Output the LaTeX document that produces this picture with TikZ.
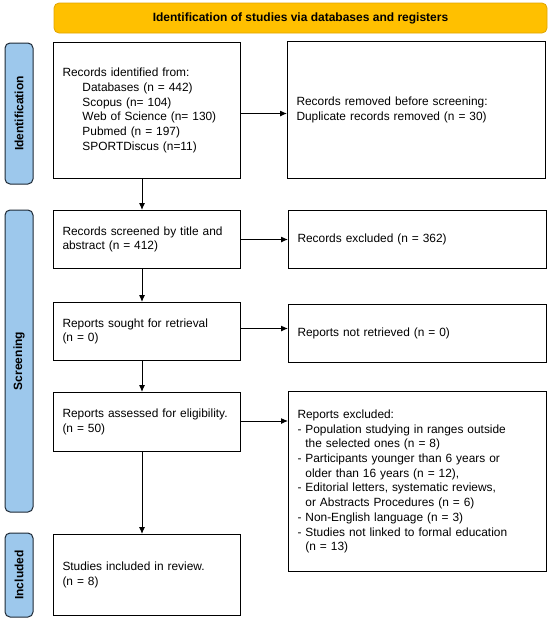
\documentclass[tikz,border=0pt]{standalone}
\usepackage{fontspec}
\setmainfont{Liberation Sans}
\usetikzlibrary{arrows.meta}

\definecolor{headgold}{HTML}{FFC000}
\definecolor{headedge}{HTML}{E0A400}
\definecolor{phaseblue}{HTML}{9DC8EC}
\definecolor{phaseedge}{HTML}{1F2A36}

\newcommand{\sub}{\hspace*{20pt}}
\newcommand{\cont}{\phantom{-}\ }

\tikzset{
  box/.style={draw, line width=1pt, rectangle, align=left, anchor=north west,
    inner xsep=9pt, inner ysep=2pt, font=\fontsize{11.9}{14.7}\selectfont},
  leftbox/.style={box, text width=169pt, minimum height=#1},
  rightbox/.style={box, text width=240pt, minimum height=#1},
  phase/.style={draw=phaseedge, fill=phaseblue, line width=1pt, rounded corners=5pt,
    rotate=90, minimum height=28pt, inner sep=0pt, font=\fontsize{12}{14}\selectfont\bfseries},
  header/.style={draw=headedge, fill=headgold, line width=0.8pt, rounded corners=5pt,
    minimum width=493pt, minimum height=30pt, font=\fontsize{12}{14}\selectfont\bfseries},
  flow/.style={line width=1pt, -{Latex[length=7pt,width=6pt]}}
}

\begin{document}
\begin{tikzpicture}[x=1pt,y=-1pt]
            \useasboundingbox (0,0) rectangle (550,622);

            % title and phases
            \node[header] (head) at (300.5,18) {Identification of studies via databases and registers};
            \node[phase, minimum width=141pt] (ident) at (19,113.5) {Identification};
            \node[phase, minimum width=302pt] (screen) at (19,361) {Screening};
            \node[phase, minimum width=84pt] (incl) at (19,575) {Included};

            % left column
            \node[leftbox=136pt] (found) at (53,42) {Records identified from:\\
              \sub Databases (n = 442)\\
              \sub Scopus (n= 104)\\
              \sub Web of Science (n= 130)\\
              \sub Pubmed (n = 197)\\
              \sub SPORTDiscus (n=11)};
            \node[leftbox=58pt] (screened) at (53,210) {Records screened by title and\\abstract (n = 412)};
            \node[leftbox=58pt] (sought) at (53,302) {Reports sought for retrieval\\(n = 0)};
            \node[leftbox=59pt] (assessed) at (53,392) {Reports assessed for eligibility.\\(n = 50)};
            \node[leftbox=81pt] (included) at (53,534) {Studies included in review.\\(n = 8)};

            % right column
            \node[rightbox=137pt] (removed) at (287,41) {Records removed before screening:\\Duplicate records removed (n = 30)};
            \node[rightbox=58pt] (excluded) at (288,210) {Records excluded (n = 362)};
            \node[rightbox=58pt] (notret) at (288,304) {Reports not retrieved (n = 0)};
            \node[rightbox=180pt] (repexcl) at (288,391) {Reports excluded:\\
              - Population studying in ranges outside\\
              \cont the selected ones (n = 8)\\
              - Participants younger than 6 years or\\
              \cont older than 16 years (n = 12),\\
              - Editorial letters, systematic reviews,\\
              \cont or Abstracts Procedures (n = 6)\\
              - Non-English language (n = 3)\\
              - Studies not linked to formal education\\
              \cont (n = 13)};

            % connectors
            \draw[flow] ([xshift=-5pt]found.south) -- ([xshift=-5pt]screened.north);
            \draw[flow] ([xshift=-5pt]screened.south) -- ([xshift=-5pt]sought.north);
            \draw[flow] ([xshift=-5pt]sought.south) -- ([xshift=-5pt]assessed.north);
            \draw[flow] ([xshift=-5pt]assessed.south) -- ([xshift=-5pt]included.north);

            \draw[flow] ([yshift=-3pt]found.east) -- ([yshift=-3pt]found.east -| removed.west);
            \draw[flow] (screened.east) -- (screened.east -| excluded.west);
            \draw[flow] ([yshift=3pt]sought.east) -- ([yshift=3pt]sought.east -| notret.west);
            \draw[flow] ([yshift=1pt]assessed.east) -- ([yshift=1pt]assessed.east -| repexcl.west);
            \end{tikzpicture}
\end{document}
